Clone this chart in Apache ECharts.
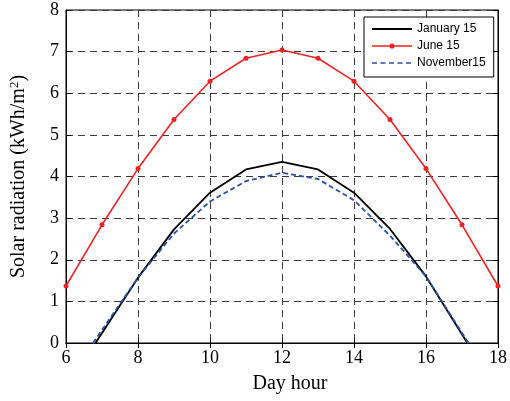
<!DOCTYPE html>
<html><head><meta charset="utf-8">
<script src="https://cdn.jsdelivr.net/npm/echarts@6/dist/echarts.min.js"></script>
<style>html,body{margin:0;padding:0;background:#fff}#c{width:510px;height:401px}</style>
</head><body><div id="c"></div>
<script>
const hours = [6,7,8,9,10,11,12,13,14,15,16,17,18];
const juneVals = [1.37,2.84,4.19,5.37,6.29,6.84,7.04,6.84,6.29,5.37,4.19,2.84,1.37];
const janHours = [6.82,8,9,10,11,12,13,14,15,16,17.15];
const janVals = [0,1.57,2.73,3.61,4.17,4.35,4.17,3.61,2.74,1.6,0];
const novHours = [6.75,8,9,10,11,12,13,14,15,16,17.18];
const novVals = [0,1.57,2.63,3.40,3.89,4.09,3.94,3.43,2.58,1.6,0];
const xTicks = [6,8,10,12,14,16,18];
const yTicks = [0,1,2,3,4,5,6,7,8];
const seriesNames = ['January 15','June 15','November15'];

const pair = (xs, ys) => xs.map((x,i)=>[x,ys[i]]);
const serif = '"Liberation Serif","Times New Roman",serif';
const frame = 'M0,0M40,10';
const iconSolid = 'path://' + frame + 'M0,4.1H40V5.9H0Z';
const iconDot = 'path://' + frame + 'M0,4.3H40V5.7H0Z M17.4,5a2.6,2.6 0 1,1 5.2,0a2.6,2.6 0 1,1 -5.2,0Z';
const iconDash = 'path://' + frame + 'M0,4.2H5V5.8H0Z M8.5,4.2H13.5V5.8H8.5Z M17,4.2H22V5.8H17Z M25.5,4.2H30.5V5.8H25.5Z M34,4.2H39V5.8H34Z';

const chart = echarts.init(document.getElementById('c'), null, {renderer:'canvas'});
const gridLine = {show:true, lineStyle:{color:'#3a3a3a', type:[7,5], width:1}};
chart.setOption({
  animation:false,
  backgroundColor:'#fff',
  grid:{left:61, right:9, top:10, bottom:58, show:true, borderColor:'#000', borderWidth:1},
  legend:{
    left:364, top:17, orient:'vertical', itemWidth:40, itemHeight:10, itemGap:5,
    padding:[6,8,8,8], borderColor:'#000', borderWidth:1, backgroundColor:'#fff',
    itemStyle:{borderWidth:0},
    textStyle:{fontFamily:'"Liberation Sans",Arial,sans-serif', fontSize:12, color:'#000'},
    data:[
      {name:seriesNames[0], icon:iconSolid},
      {name:seriesNames[1], icon:iconDot},
      {name:seriesNames[2], icon:iconDash}
    ]
  },
  xAxis:[{
    type:'value', min:xTicks[0], max:xTicks[xTicks.length-1], interval:2,
    name:'Day hour', nameLocation:'middle', nameGap:31,
    nameTextStyle:{fontFamily:serif, fontSize:20, color:'#000', padding:[0,0,0,16]},
    axisLine:{lineStyle:{color:'#000'}}, axisTick:{inside:true, length:5, lineStyle:{color:'#000'}},
    axisLabel:{fontFamily:serif, fontSize:18, color:'#000', margin:6},
    splitLine:gridLine
  },{
    type:'value', position:'top', min:6, max:18, interval:2,
    axisLine:{show:true, lineStyle:{color:'#000'}}, axisTick:{inside:true, length:5, lineStyle:{color:'#000'}},
    axisLabel:{show:false}, splitLine:{show:false}
  }],
  yAxis:[{
    type:'value', min:yTicks[0], max:yTicks[yTicks.length-1], interval:1,
    name:'{a|Solar radiation (kWh/m}{s|2}{a|)}', nameLocation:'middle', nameGap:37,
    nameTextStyle:{fontFamily:serif, fontSize:20, color:'#000',
      rich:{a:{fontFamily:serif, fontSize:20, color:'#000'},
            s:{fontFamily:serif, fontSize:13, color:'#000', verticalAlign:'top', padding:[0,0,8,0]}}},
    axisLine:{show:true, lineStyle:{color:'#000'}}, axisTick:{show:true, inside:true, length:5, lineStyle:{color:'#000'}},
    axisLabel:{fontFamily:serif, fontSize:18, color:'#000', margin:7},
    splitLine:gridLine
  },{
    type:'value', position:'right', min:0, max:8, interval:1,
    axisLine:{show:true, lineStyle:{color:'#000'}}, axisTick:{show:true, inside:true, length:5, lineStyle:{color:'#000'}},
    axisLabel:{show:false}, splitLine:{show:false}
  }],
  series:[
    {name:seriesNames[0], type:'line', data:pair(janHours, janVals), showSymbol:false, symbol:'none',
     lineStyle:{color:'#000', width:1.8}, itemStyle:{color:'#000'}},
    {name:seriesNames[1], type:'line', data:pair(hours, juneVals), symbol:'circle', symbolSize:5,
     lineStyle:{color:'#ee2424', width:1.6}, itemStyle:{color:'#ee2424'}},
    {name:seriesNames[2], type:'line', data:pair(novHours, novVals), showSymbol:false, symbol:'none',
     lineStyle:{color:'#2f4fa8', width:1.8, type:[5,3]}, itemStyle:{color:'#2f4fa8'}}
  ]
});
</script></body></html>
